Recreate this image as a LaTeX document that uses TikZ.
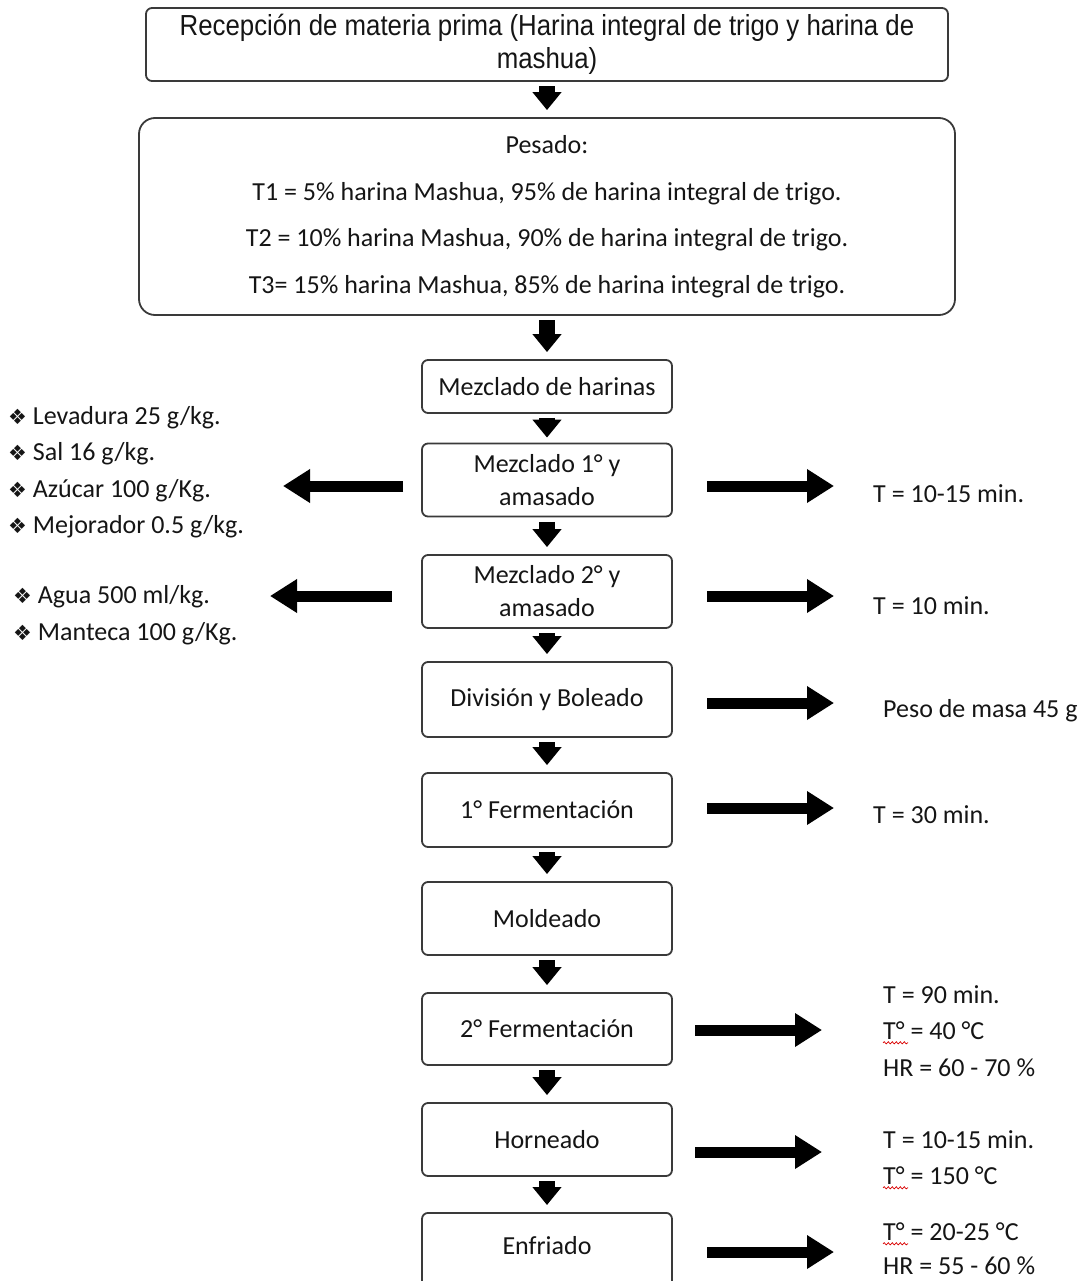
\documentclass[tikz,border=0pt]{standalone}
\usepackage{fontspec}
\setmainfont{Carlito}
\newfontfamily\arialn[FakeStretch=0.89]{Liberation Sans}
\newfontfamily\symf{DejaVu Sans}
\usetikzlibrary{arrows.meta,decorations.pathmorphing}
\definecolor{txt}{HTML}{151515}
\definecolor{bord}{HTML}{3A3A3A}
\tikzset{
  box/.style={draw=bord, line width=1.8pt, rounded corners=6pt, minimum width=250pt,
    minimum height=73pt, align=center, text=txt, inner sep=0pt,
    font=\fontsize{26}{33}\selectfont},
  lbl/.style={anchor=west, text=txt, inner sep=0pt, font=\fontsize{26}{30}\selectfont},
  varr/.style={line width=16pt, -{Triangle[length=18pt,width=28pt]}, black,
    shorten <=4.5pt, shorten >=7pt},
  harr/.style={line width=11pt, -{Triangle[length=27pt,width=32pt]}, black},
  squig/.style={draw=red!85!black, line width=0.7pt, decorate,
    decoration={snake, amplitude=1.1pt, segment length=4pt}},
}
\newcommand{\bulsym}{{\symf\fontsize{21}{22}\selectfont ❖}}
\begin{document}
\begin{tikzpicture}[x=1pt,y=-1pt]
\useasboundingbox (0,0) rectangle (1083,1281);
% top box
\node[box, minimum width=802pt, minimum height=73pt, font=\arialn\fontsize{29}{33}\selectfont]
  (rec) at (547,44.5) {Recepción de materia prima (Harina integral de trigo y harina de\\mashua)};
\node[box, rounded corners=16pt, minimum width=816pt, minimum height=197pt,
  font=\fontsize{26}{46.5}\selectfont] (pes) at (547,216.5)
  {Pesado:\\T1 = 5\% harina Mashua, 95\% de harina integral de trigo.\\
   T2 = 10\% harina Mashua, 90\% de harina integral de trigo.\\
   T3= 15\% harina Mashua, 85\% de harina integral de trigo.};
\node[box, minimum height=53pt] (mh) at (547,386.5) {Mezclado de harinas};
\node[box] (m1) at (547,480) {Mezclado 1° y\\amasado};
\node[box] (m2) at (547,591.5) {Mezclado 2° y\\amasado};
\node[box, minimum height=75pt] (div) at (547,699.5) {División y Boleado};
\node[box, minimum height=74pt] (f1) at (547,810) {1° Fermentación};
\node[box] (mol) at (547,918.5) {Moldeado};
\node[box, minimum height=72pt] (f2) at (547,1029) {2° Fermentación};
\node[box] (hor) at (547,1139.5) {Horneado};
\node[box, minimum height=90pt, anchor=north] (enf) at (547,1212) {};
\node[lbl, anchor=center] (enft) at (547,1246) {Enfriado};
% vertical arrows
\draw[varr] (rec) -- (pes);
\draw[varr] (pes) -- (mh);
\draw[varr, shorten <=4pt, shorten >=5pt] (mh) -- (m1);
\draw[varr] (m1) -- (m2);
\draw[varr] (m2) -- (div);
\draw[varr] (div) -- (f1);
\draw[varr] (f1) -- (mol);
\draw[varr] (mol) -- (f2);
\draw[varr] (f2) -- (hor);
\draw[varr] (hor) -- (enf);
% horizontal arrows (free)
\coordinate (r1a) at (707,486); \coordinate (r1b) at (834,486);
\coordinate (r2a) at (707,596); \coordinate (r2b) at (834,596);
\coordinate (r3a) at (707,703); \coordinate (r3b) at (834,703);
\coordinate (r4a) at (707,808); \coordinate (r4b) at (834,808);
\coordinate (r5a) at (695,1030); \coordinate (r5b) at (822,1030);
\coordinate (r6a) at (695,1152); \coordinate (r6b) at (822,1152);
\coordinate (r7a) at (707,1252); \coordinate (r7b) at (834,1252);
\coordinate (l1a) at (403,486); \coordinate (l1b) at (283,486);
\coordinate (l2a) at (392,596); \coordinate (l2b) at (270,596);
\foreach \p in {r1,r2,r3,r4,r5,r6,r7,l1,l2} \draw[harr] (\p a) -- (\p b);
% right labels
\node[lbl] (t1) at (873,494) {T = 10-15 min.};
\node[lbl] (t2) at (873,606) {T = 10 min.};
\node[lbl] (t3) at (883,711) {Peso de masa 45 g};
\node[lbl] (t4) at (873,815) {T = 30 min.};
\node[lbl] (t5a) at (883,995) {T = 90 min.};
\node[lbl] (t5b) at (883,1031) {T° = 40 °C};
\node[lbl] (t5c) at (883,1068) {HR = 60 - 70 \%};
\node[lbl] (t6a) at (883,1140) {T = 10-15 min.};
\node[lbl] (t6b) at (883,1176) {T° = 150 °C};
\node[lbl] (t7a) at (883,1232) {T° = 20-25 °C};
\node[lbl] (t7b) at (883,1266) {HR = 55 - 60 \%};
\draw[squig] ([yshift=-3pt]t5b.base west) -- ++(25,0);
\draw[squig] ([yshift=-3pt]t6b.base west) -- ++(25,0);
\draw[squig] ([yshift=-3pt]t7a.base west) -- ++(25,0);
% left labels
\node[lbl] (i1) at (8,418) {\bulsym\ Levadura 25 g/kg.};
\node[lbl] (i2) at (8,454) {\bulsym\ Sal 16 g/kg.};
\node[lbl] (i3) at (8,491) {\bulsym\ Azúcar 100 g/Kg.};
\node[lbl] (i4) at (8,527) {\bulsym\ Mejorador 0.5 g/kg.};
\node[lbl] (i5) at (13,597) {\bulsym\ Agua 500 ml/kg.};
\node[lbl] (i6) at (13,634) {\bulsym\ Manteca 100 g/Kg.};
\end{tikzpicture}
\end{document}
